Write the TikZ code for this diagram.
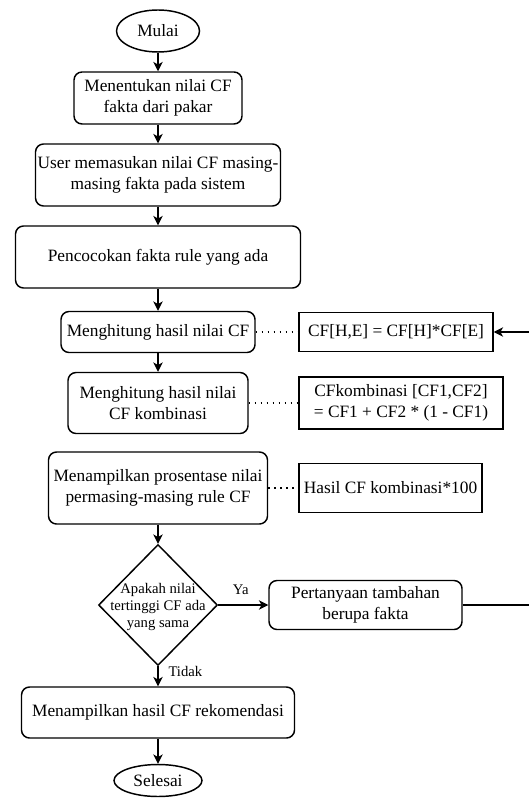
\documentclass[tikz,border=0pt]{standalone}
\usepackage{fontspec}
\setmainfont{Liberation Serif}
\usetikzlibrary{shapes.geometric,arrows.meta}
\begin{document}
\begin{tikzpicture}[x=0.75pt,y=-0.75pt,
  every node/.style={font=\fontsize{13}{16}\selectfont},
  proc/.style={draw, line width=1.1pt, rounded corners=6pt, align=center, inner sep=1pt},
  formula/.style={draw, line width=1.1pt, align=center, inner sep=1pt},
  term/.style={draw, ellipse, line width=1.1pt, inner sep=0pt},
  flow/.style={line width=1.1pt, -{Stealth[length=7pt,width=7pt,inset=2pt]}},
  note/.style={line width=1.2pt, dash pattern=on 1.3pt off 3.2pt},
  lbl/.style={font=\fontsize{11}{13}\selectfont}
]
\useasboundingbox (0,0) rectangle (528,798);

% main flow
\node[term, minimum width=62.25pt, minimum height=31.5pt] (start) at (158,31) {Mulai};
\node[proc, minimum width=126pt, minimum height=39pt] (b1) at (158,98) {Menentukan nilai CF\\fakta dari pakar};
\node[proc, minimum width=183.75pt, minimum height=46.5pt] (b2) at (158,175) {User memasukan nilai CF masing-\\masing fakta pada sistem};
\node[proc, minimum width=213.75pt, minimum height=46.5pt] (b3) at (158,257) {Pencocokan fakta rule yang ada};
\node[proc, minimum width=145.5pt, minimum height=30.75pt] (b4) at (158,332) {Menghitung hasil nilai CF};
\node[proc, minimum width=135pt, minimum height=45.75pt] (b5) at (158,403) {Menghitung hasil nilai\\CF kombinasi};
\node[proc, minimum width=164.25pt, minimum height=54pt] (b6) at (158,488) {Menampilkan prosentase nilai\\permasing-masing rule CF};
\node[draw, diamond, line width=1.1pt, minimum width=89.25pt, minimum height=90.75pt, inner sep=0pt] (dec) at (158,605) {};
\node[font=\fontsize{11}{12.75}\selectfont, align=center, inner sep=0pt] (dectext) at (158,607) {Apakah nilai\\tertinggi CF ada\\yang sama};
\node[proc, minimum width=144.75pt, minimum height=36.75pt] (b7) at (365.5,605) {Pertanyaan tambahan\\berupa fakta};
\node[proc, minimum width=204.75pt, minimum height=38.25pt] (b8) at (158,712.5) {Menampilkan hasil CF rekomendasi};
\node[term, minimum width=66pt, minimum height=24pt] (stop) at (158,780.5) {Selesai};

% formula notes
\node[formula, minimum width=145.5pt, minimum height=29.25pt] (f1) at (396,332) {CF[H,E] = CF[H]*CF[E]};
\node[formula, minimum width=153pt, minimum height=39pt] (f2) at (401,403) {CFkombinasi [CF1,CF2]\\= CF1 + CF2 * (1 - CF1)};
\node[formula, minimum width=137.25pt, minimum height=36.75pt] (f3) at (390.5,488) {Hasil CF kombinasi*100};

% connectors
\draw[flow] (start) -- (b1);
\draw[flow] (b1) -- (b2);
\draw[flow] (b2) -- (b3);
\draw[flow] (b3) -- (b4);
\draw[flow] (b4) -- (b5);
\draw[flow] (b6) -- (dec.north);
\draw[flow] (dec.east) -- (b7.west) node[lbl, pos=0.45, above=4pt] {Ya};
\draw[flow] (dec.south) -- (b8.north) node[lbl, pos=0.25, right=4pt] {Tidak};
\draw[flow] (b8) -- (stop);

\draw[note] (b4.east) -- (f1.west);
\draw[note] (b5.east) -- (f2.west);
\draw[note] (b6.east) -- (f3.west);

% loop back from the extra question to the CF formula
\coordinate (turn) at (545,332);
\draw[flow] (b7.east) -| (turn) -- (f1.east);
\end{tikzpicture}
\end{document}
